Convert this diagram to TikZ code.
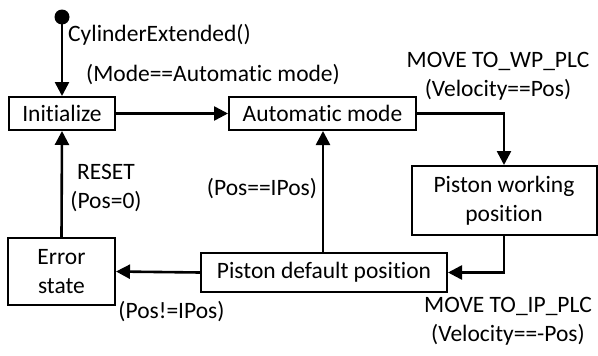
\documentclass[tikz,border=0pt]{standalone}
\usepackage{fontspec}
\setmainfont{Carlito}[Ligatures=CommonOff]
\usetikzlibrary{arrows.meta}
\begin{document}
\begin{tikzpicture}[x=1pt,y=-1pt,
  every node/.style={font=\fontsize{23.5}{29}\selectfont},
  state/.style={draw,line width=2pt,inner sep=0pt,align=center},
  lbl/.style={inner sep=0pt,align=center},
  conn/.style={line width=2.6pt,-{Triangle[length=14pt,width=14pt]}}]
\useasboundingbox (0,0) rectangle (598,356);
\node[state,minimum width=106,minimum height=33] (init) at (62,113.5) {Initialize};
\node[state,minimum width=187,minimum height=33] (auto) at (322.5,113.5) {Automatic mode};
\node[state,minimum width=185,minimum height=69] (pwp) at (504,200.5) {Piston working\\position};
\node[state,minimum width=246,minimum height=39] (pdp) at (324,272.5) {Piston default position};
\node[state,minimum width=107,minimum height=67] (err) at (61.5,271.5) {Error\\state};
\coordinate (s) at (62,17);
\fill (s) circle (7.5);
\draw[conn] (s) -- (init.north);
\draw[conn] (init.east) -- (auto.west);
\draw[conn] (auto.east) -| (pwp.north);
\draw[conn] (pwp.south) |- (pdp.east);
\draw[conn] (pdp.north -| 323,0) -- (auto.south -| 323,0);
\draw[conn] (pdp.west) -- (err.east);
\draw[conn] (err.north) -- (init.south);
\node[lbl,anchor=west] (l1) at (68,35) {CylinderExtended()};
\node[lbl] (l2) at (213,75) {(Mode==Automatic mode)};
\node[lbl] (l3) at (498,76) {MOVE TO\_WP\_PLC\\(Velocity==Pos)};
\node[lbl] (l4) at (262,189) {(Pos==IPos)};
\node[lbl] (l5) at (106,188.5) {RESET\\(Pos=0)};
\node[lbl] (l6) at (171.5,312) {(Pos!=IPos)};
\node[lbl] (l7) at (508,321) {MOVE TO\_IP\_PLC\\(Velocity==-Pos)};
\end{tikzpicture}
\end{document}
